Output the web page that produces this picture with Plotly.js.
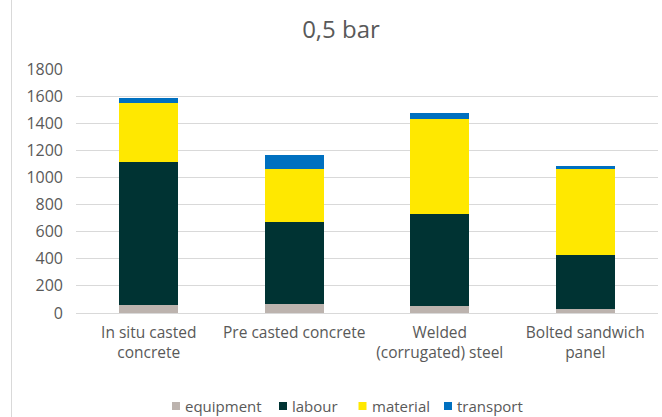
<!DOCTYPE html>
<html>
<head>
<meta charset="utf-8">
<script src="https://cdn.plot.ly/plotly-3.0.1.min.js"></script>
<style>
  html, body { margin: 0; padding: 0; background: #ffffff; }
  #chart { width: 662px; height: 417px; }
</style>
</head>
<body>
<div id="chart"></div>
<script>
// Construction methods compared at 0,5 bar
const categories = [
  'In situ casted<br>concrete',
  'Pre casted concrete',
  'Welded<br>(corrugated) steel',
  'Bolted sandwich<br>panel'
];

// Cost components, stacked bottom to top
const equipment = [56, 66, 54, 32];
const labour    = [1057, 602, 678, 393];
const material  = [437, 398, 698, 636];
const transport = [39, 98, 46, 27];

const seriesNames  = ['equipment', 'labour', 'material', 'transport'];
const seriesColors = ['#BCB3AE', '#003333', '#FFE800', '#0070C0'];
const seriesValues = [equipment, labour, material, transport];

const FONT = '"Open Sans", "Liberation Sans", sans-serif';
const GREY_TEXT = '#595959';

// plot area in pixels (used to place the hand-built legend row)
const W = 662, H = 417;
const M = { l: 76, r: 4, t: 69, b: 104 };
const plotW = W - M.l - M.r;
const plotH = H - M.t - M.b;
const px2x = px => (px - M.l) / plotW;
const py2y = py => (H - M.b - py) / plotH;

const traces = seriesValues.map((vals, i) => ({
  type: 'bar',
  name: seriesNames[i],
  x: categories,
  y: vals,
  marker: { color: seriesColors[i], line: { width: 0 } },
  showlegend: false,
  hoverinfo: 'x+y+name'
}));

// Legend row: small square swatch followed by the series name
const legendSwatchX = [176, 283, 362.5, 448];
const legendRowY = 406;
const legendShapes = seriesNames.map((n, i) => ({
  type: 'rect',
  xref: 'paper', yref: 'paper',
  x0: px2x(legendSwatchX[i] - 4), x1: px2x(legendSwatchX[i] + 4),
  y0: py2y(legendRowY + 4), y1: py2y(legendRowY - 4),
  fillcolor: seriesColors[i],
  line: { width: 0 }
}));
const legendLabels = seriesNames.map((n, i) => ({
  text: n,
  xref: 'paper', yref: 'paper',
  x: px2x(legendSwatchX[i] + 7), y: py2y(legendRowY),
  xanchor: 'left', yanchor: 'middle',
  showarrow: false,
  font: { family: FONT, size: 15, color: GREY_TEXT }
}));

const layout = {
  width: W,
  height: H,
  barmode: 'stack',
  bargap: 0.595,
  paper_bgcolor: '#ffffff',
  plot_bgcolor: '#ffffff',
  margin: M,
  font: { family: FONT, size: 15, color: GREY_TEXT },
  showlegend: false,
  title: {
    text: '0,5 bar',
    font: { family: FONT, size: 24, color: GREY_TEXT },
    x: 341 / W,
    xanchor: 'center',
    y: 1 - 30 / H,
    yanchor: 'middle'
  },
  xaxis: {
    type: 'category',
    showgrid: false,
    showline: false,
    ticks: '',
    ticklabelstandoff: 8,
    tickfont: { family: FONT, size: 15.5, color: GREY_TEXT },
    fixedrange: true
  },
  yaxis: {
    range: [0, 1800],
    dtick: 200,
    tick0: 0,
    showgrid: true,
    gridcolor: '#D9D9D9',
    gridwidth: 1,
    zeroline: true,
    zerolinecolor: '#D9D9D9',
    zerolinewidth: 1,
    showline: false,
    ticks: '',
    ticklabelstandoff: 12,
    tickfont: { family: FONT, size: 16, color: GREY_TEXT },
    fixedrange: true
  },
  annotations: legendLabels,
  shapes: [
    {
      type: 'line',
      xref: 'paper', yref: 'paper',
      x0: px2x(11.5), x1: px2x(11.5),
      y0: py2y(H + 2), y1: py2y(-2),
      line: { color: '#D9D9D9', width: 1 }
    }
  ].concat(legendShapes)
};

Plotly.newPlot('chart', traces, layout, { displayModeBar: false, staticPlot: true });
</script>
</body>
</html>
